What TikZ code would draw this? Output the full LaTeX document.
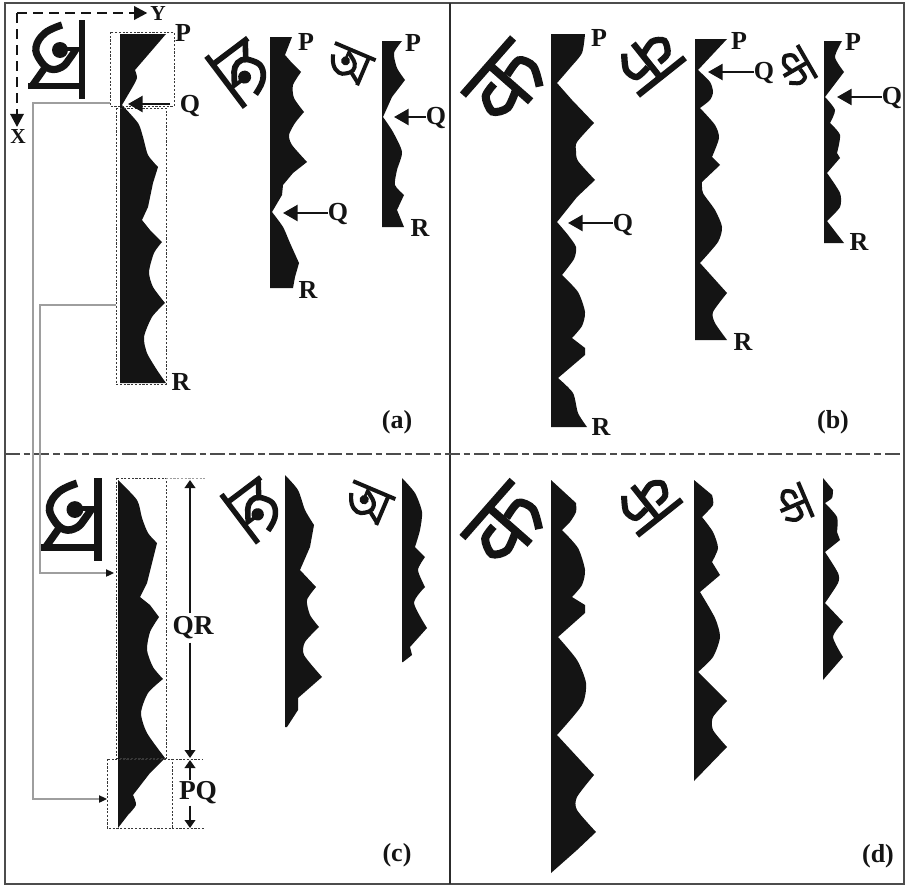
\documentclass[tikz,border=0pt]{standalone}
\usepackage{fontspec}
\setmainfont{Liberation Serif}
\usetikzlibrary{arrows.meta}
\definecolor{inkc}{gray}{0.08}
\definecolor{framec}{gray}{0.3}
\definecolor{guidec}{gray}{0.62}
\tikzset{
  x=0.75pt,y=-0.75pt,
  profile/.style={fill=inkc},
  lobe/.style={smooth,tension=0.42},
  lab/.style={font=\bfseries\fontsize{19.5}{20}\selectfont,text=inkc,inner sep=0pt},
  dimlab/.style={font=\bfseries\fontsize{20.5}{21}\selectfont,text=inkc,inner sep=0pt},
  axlab/.style={font=\bfseries\fontsize{16}{17}\selectfont,text=inkc,inner sep=0pt},
  qarrow/.style={draw=inkc,line width=1.9pt,-{Triangle[length=11pt,width=12pt]}},
  axisline/.style={draw=inkc,line width=2pt,dash pattern=on 7.5pt off 4.5pt,shorten >=2pt,-{Triangle[length=10pt,width=10pt]}},
  dimarrow/.style={draw=inkc,line width=1.2pt,-{Triangle[length=6pt,width=8pt]}},
  dotbox/.style={draw=inkc!85,line width=0.75pt,dash pattern=on 1.6pt off 1.2pt},
  guide/.style={draw=guidec,line width=0.9pt},
  guidearrow/.style={guide,-{Triangle[length=6pt,width=5.5pt,color=inkc]}},
  border/.style={draw=framec,line width=1.4pt},
}
% Bengali-like rotated letter: centre of stem, clockwise angle, scale
\newcommand{\glyphA}[4]{%
\begin{scope}[shift={(#1,#2)},rotate=-#3,scale=#4,draw=inkc,fill=inkc,line cap=butt]
  \draw[line width={5.2*#4 pt}] (0,-39) -- (0,40);
  \draw[line width={5.2*#4 pt}] (-54,27) -- (0,27);
  \draw[line width={5.4*#4 pt}] plot[smooth,tension=0.7] coordinates {(-20,-34) (-37,-26) (-46,-12) (-42,1) (-32,10) (-20,8) (-12,-1) (-6,-10)};
  \draw[line width={5.2*#4 pt}] (-38,10) -- (-50,27);
  \fill (-22,-9) circle[radius=8];
  \draw[line width={3.5*#4 pt}] (-22,-10) -- (0,-10);
\end{scope}}
% Devanagari-like rotated letter: centre of head bar, clockwise angle, scale
\newcommand{\glyphB}[4]{%
\begin{scope}[shift={(#1,#2)},rotate=-#3,scale=#4,draw=inkc,fill=inkc,line cap=butt]
  \draw[line width={6*#4 pt}] (-38,0) -- (38,0);
  \draw[line width={6*#4 pt}] (2,0) -- (2,55);
  \draw[line width={6*#4 pt}] plot[smooth] coordinates {(19,52) (30,34) (25,19) (6,20)};
  \draw[line width={6*#4 pt}] plot[smooth] coordinates {(-9,16) (-24,18) (-31,33) (-18,42) (2,36)};
\end{scope}}
\begin{document}
\begin{tikzpicture}
\useasboundingbox (0,0) rectangle (906,885);
\fill[white] (0,0) rectangle (906,885);
% frame
\draw[border] (5,3) rectangle (904,884);
\draw[draw=inkc!90,line width=1.5pt] (450,3) -- (450,884);
\draw[draw=framec,line width=1pt,dash pattern=on 11pt off 3pt on 5pt off 3pt] (5,454) -- (904,454);

% --- guides (behind profiles)
\draw[guidearrow] (110,103) -- (33,103) -- (33,799) -- (107,799);
\draw[guidearrow] (116,305) -- (40,305) -- (40,573) -- (114,573);

% --- profiles, panel (a)
\path[profile] (120,34) -- (166,34) -- (135,70) -- plot[lobe] coordinates {(135,70) (137,78) (132,88)} -- (122,105) -- plot[lobe] coordinates {(122,105) (138,123) (143,137) (148,155) (158,167)} -- (153,183) -- (148,207) -- (142,220) -- (150,230) -- (162,242) -- plot[lobe] coordinates {(162,242) (154,253) (149,272) (153,287) (165,303)} -- plot[lobe] coordinates {(165,303) (152,317) (144,337) (147,353) (157,370) (166,383)} -- (120,383) -- cycle;
\path[profile] (270,37) -- (292,37) -- (285,55) -- (292,63) -- (301,72) -- plot[lobe] coordinates {(301,72) (293,85) (294,98) (304,112)} -- plot[lobe] coordinates {(304,112) (295,123) (289,135) (292,145) (307,162)} -- (293,173) -- (283,185) -- (282,195) -- (272,212) -- plot[lobe] coordinates {(272,212) (283,227) (290,243) (299,263)} -- (295,277) -- (293,288) -- (270,288) -- cycle;
\path[profile] (382,41) -- (402,41) -- plot[lobe] coordinates {(402,41) (394,53) (397,68) (405,80)} -- (392,97) -- (383,117) -- plot[lobe] coordinates {(383,117) (393,132) (402,152) (397,170) (395,185) (404,195)} -- (397,210) -- (404,227) -- (382,227) -- cycle;
% --- profiles, panel (b)
\path[profile] (551,34) -- (585,34) -- plot[lobe] coordinates {(585,34) (582,53) (570,68) (557,83)} -- (572,100) -- (594,123) -- plot[lobe] coordinates {(594,123) (577,142) (576,151) (578,161) (595,180)} -- (577,197) -- (557,222) -- plot[lobe] coordinates {(557,222) (568,235) (576,247) (574,259) (562,275)} -- plot[lobe] coordinates {(562,275) (578,292) (585,312) (582,326) (572,338)} -- (585,348) -- (585,355) -- (558,378) -- plot[lobe] coordinates {(558,378) (573,393) (578,413) (587,427)} -- (551,427) -- cycle;
\path[profile] (695,39) -- (727,39) -- (698,70) -- plot[lobe] coordinates {(698,70) (710,82) (713,92) (710,100) (700,108)} -- plot[lobe] coordinates {(700,108) (715,125) (719,138) (712,157)} -- (720,165) -- (702,182) -- plot[lobe] coordinates {(702,182) (703,193) (715,210) (722,227) (718,242) (700,263)} -- (727,293) -- plot[lobe] coordinates {(727,293) (713,312) (715,323) (727,340)} -- (695,340) -- cycle;
\path[profile] (824,41) -- (842,41) -- plot[lobe] coordinates {(842,41) (835,57) (844,72)} -- (825,97) -- plot[lobe] coordinates {(825,97) (835,110) (830,123)} -- plot[lobe] coordinates {(830,123) (840,135) (837,153)} -- (840,158) -- (827,173) -- plot[lobe] coordinates {(827,173) (840,193) (840,207) (827,221)} -- (844,243) -- (824,243) -- cycle;
% --- profiles, panel (c)
\path[profile] (118,480) -- plot[lobe] coordinates {(118,480) (137,500) (142,518) (148,533) (157,543)} -- (152,563) -- (147,583) -- (140,597) -- (150,605) -- (159,617) -- plot[lobe] coordinates {(159,617) (150,632) (147,650) (153,667) (163,679)} -- plot[lobe] coordinates {(163,679) (148,693) (141,713) (147,733) (165,758)} -- (150,773) -- (133,795) -- plot[lobe] coordinates {(133,795) (136,805) (128,815)} -- (118,828) -- cycle;
\path[profile] (285,475) -- plot[lobe] coordinates {(285,475) (298,490) (305,510) (314,525)} -- (310,547) -- (300,570) -- (316,587) -- plot[lobe] coordinates {(316,587) (307,600) (310,615) (319,627)} -- plot[lobe] coordinates {(319,627) (305,642) (304,655) (322,677)} -- (298,698) -- (298,710) -- (287,727) -- (285,727) -- cycle;
\path[profile] (402,478) -- plot[lobe] coordinates {(402,478) (415,493) (422,512) (420,530) (415,547)} -- (425,557) -- plot[lobe] coordinates {(425,557) (418,570) (425,587)} -- plot[lobe] coordinates {(425,587) (414,603) (427,628)} -- (410,647) -- (412,655) -- (403,662) -- (402,662) -- cycle;
% --- profiles, panel (d)
\path[profile] (551,480) -- (576,503) -- plot[lobe] coordinates {(576,503) (576,512) (570,522) (562,530)} -- plot[lobe] coordinates {(562,530) (578,548) (585,570) (582,585) (572,597)} -- (585,605) -- (585,613) -- (558,637) -- plot[lobe] coordinates {(558,637) (577,660) (586,683) (582,705) (557,735)} -- (594,775) -- plot[lobe] coordinates {(594,775) (577,797) (577,810) (596,832)} -- (577,850) -- (551,873) -- cycle;
\path[profile] (694,480) -- (712,495) -- plot[lobe] coordinates {(712,495) (713,505) (702,517)} -- plot[lobe] coordinates {(702,517) (713,532) (718,548) (712,562)} -- (720,575) -- (700,592) -- plot[lobe] coordinates {(700,592) (715,618) (720,637) (713,657) (698,672)} -- (727,701) -- plot[lobe] coordinates {(727,701) (713,717) (713,730) (727,747)} -- (694,781) -- cycle;
\path[profile] (823,478) -- (833,490) -- plot[lobe] coordinates {(833,490) (832,498) (825,503)} -- plot[lobe] coordinates {(825,503) (837,517) (837,532)} -- (840,540) -- (825,552) -- plot[lobe] coordinates {(825,552) (838,573) (838,583) (825,603)} -- (843,622) -- plot[lobe] coordinates {(843,622) (833,637) (843,657)} -- (823,680) -- cycle;

% --- letters
\glyphA{82}{59}{0}{1}
\glyphA{226}{82}{143}{0.81}
\glyphA{355}{51.5}{-67}{0.56}
\glyphA{98}{519}{0}{1.05}
\glyphA{240}{519}{143}{0.77}
\glyphA{374}{490}{-67}{0.58}
\glyphB{488}{66.5}{-48.7}{1}
\glyphB{661.5}{76.5}{141.5}{0.79}
\glyphB{807}{61.5}{60}{0.5}
\glyphB{487.5}{509}{-48.7}{1}
\glyphB{659.5}{517.5}{141.5}{0.75}
\glyphB{805.5}{499.5}{67}{0.5}

% --- axes
\coordinate (origin) at (17,13);
\node[axlab] (axY) at (158,14) {Y};
\node[axlab] (axX) at (18,137) {X};
\draw[axisline] (origin) -- (axY.west |- origin);
\draw[axisline] (origin) -- (origin |- axX.north);

% --- dotted boxes
\draw[dotbox] (110,32) rectangle (174,106);
\draw[dotbox] (116,108) rectangle (166,384);
\draw[dotbox] (116,478) rectangle (166,758);
\draw[dotbox] (107,759) rectangle (172,828);
\draw[dotbox,draw=guidec] (166,478) -- (207,478);
\draw[dotbox] (172,759) -- (202,759);
\draw[dotbox] (172,828) -- (204,828);

% --- panel (a) labels
\node[lab] (Pa1) at (183,33) {P};
\node[lab] (Qa1) at (190,106) {Q};
\node[lab] (Ra1) at (181,382) {R};
\coordinate (ta1) at (128,104);
\coordinate (sa1) at (170,104);
\draw[qarrow] (sa1) -- (ta1);
\node[lab] (Pa2) at (306,42) {P};
\node[lab] (Qa2) at (338,214) {Q};
\node[lab] (Ra2) at (308,290) {R};
\coordinate (ta2) at (283,213);
\draw[qarrow] (Qa2.west |- ta2) -- (ta2);
\node[lab] (Pa3) at (413,43) {P};
\node[lab] (Qa3) at (436,118) {Q};
\node[lab] (Ra3) at (420,228) {R};
\coordinate (ta3) at (394,117);
\draw[qarrow] (Qa3.west |- ta3) -- (ta3);

% --- panel (b) labels
\node[lab] (Pb1) at (599,38) {P};
\node[lab] (Qb1) at (623,225) {Q};
\node[lab] (Rb1) at (601,427) {R};
\coordinate (tb1) at (568,223);
\draw[qarrow] (Qb1.west |- tb1) -- (tb1);
\node[lab] (Pb2) at (739,41) {P};
\node[lab] (Qb2) at (764,73) {Q};
\node[lab] (Rb2) at (743,342) {R};
\coordinate (tb2) at (708,72);
\draw[qarrow] (Qb2.west |- tb2) -- (tb2);
\node[lab] (Pb3) at (853,42) {P};
\node[lab] (Qb3) at (892,98) {Q};
\node[lab] (Rb3) at (859,242) {R};
\coordinate (tb3) at (837,97);
\draw[qarrow] (Qb3.west |- tb3) -- (tb3);

% --- dimensions in panel (c)
\node[dimlab] (QR) at (193,628) {QR};
\node[dimlab] (PQ) at (198,793) {PQ};
\coordinate (dq1) at (190,480);
\coordinate (dq2) at (190,758);
\coordinate (dp1) at (190,760);
\coordinate (dp2) at (190,828);
\draw[dimarrow] (QR.north -| dq1) ++(0,-3) -- (dq1);
\draw[dimarrow] (QR.south -| dq2) ++(0,3) -- (dq2);
\draw[dimarrow] (PQ.north -| dp1) ++(0,-1) -- (dp1);
\draw[dimarrow] (PQ.south -| dp2) ++(0,1) -- (dp2);

% --- panel captions
\node[lab] (capa) at (397,422) {(a)};
\node[lab] (capb) at (833,422) {(b)};
\node[lab] (capc) at (397,855) {(c)};
\node[lab] (capd) at (878,856) {(d)};
\end{tikzpicture}
\end{document}
